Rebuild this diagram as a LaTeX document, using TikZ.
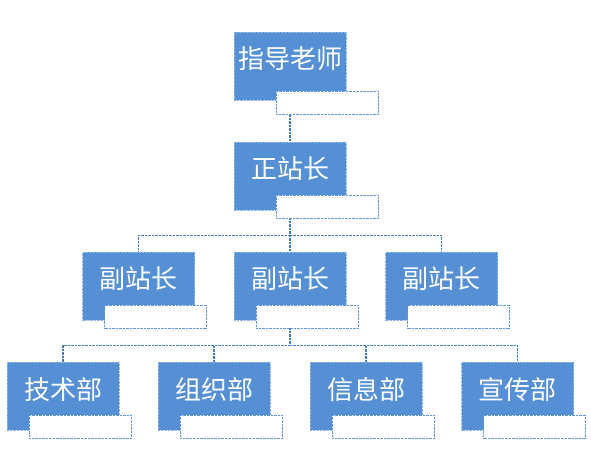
\documentclass[tikz,border=0pt]{standalone}
\usepackage{fontspec}
\newfontfamily\cjk{Noto Sans CJK SC}
\usetikzlibrary{calc}
\definecolor{BoxClr}{HTML}{5590D4}
\definecolor{BoxLine}{HTML}{8FB6E6}
\definecolor{LinkClr}{HTML}{3F7CC0}
\definecolor{TagLine}{HTML}{5F95D6}

\begin{document}
\begin{tikzpicture}[x=1pt,y=-1pt,
  post/.style={draw=BoxLine,densely dotted,fill=BoxClr,minimum width=112pt,minimum height=68pt,inner sep=0pt},
  word/.style={text=white,font=\cjk\fontsize{26}{26}\selectfont,inner sep=0pt},
  tag/.style={draw=TagLine,densely dotted,fill=white,minimum width=102pt,minimum height=23pt,inner sep=0pt,anchor=north west},
  link/.style={draw=LinkClr,line width=1.2pt,dash pattern=on 2.5pt off 1pt}]
\useasboundingbox (0,0) rectangle (591,470);

% boxes
\node[post] (ls) at (290,66) {};
\node[post] (zz) at (290,176) {};
\node[post] (f1) at (138.5,286) {};
\node[post] (f2) at (290,286) {};
\node[post] (f3) at (441.5,286) {};
\node[post] (b1) at (63,396) {};
\node[post] (b2) at (214,396) {};
\node[post] (b3) at (366,396) {};
\node[post] (b4) at (517.5,396) {};

% connectors
\draw[link] (ls.south) -- (zz.north);
\foreach \n in {f1,f2,f3}
  \draw[link] (zz.south) -- ++(0,25) -| (\n.north);
\foreach \n in {b1,b2,b3,b4}
  \draw[link] (f2.south) -- ++(0,25) -| (\n.north);

% white tags under the boxes
\node[tag] at ($(ls.south west)+(42,-9)$) {};
\node[tag] at ($(zz.south west)+(42,-15)$) {};
\foreach \n in {f1,f2,f3,b1,b2,b3,b4}
  \node[tag] at ($(\n.south west)+(22,-15)$) {};

% texts
\node[word] at ($(ls)+(0,-7)$) {指导老师};
\node[word] at ($(zz)+(0,-7)$) {正站长};
\foreach \n in {f1,f2,f3}
  \node[word] at ($(\n)+(0,-7)$) {副站长};
\node[word] at ($(b1)+(0,-6)$) {技术部};
\node[word] at ($(b2)+(0,-6)$) {组织部};
\node[word] at ($(b3)+(0,-6)$) {信息部};
\node[word] at ($(b4)+(0,-6)$) {宣传部};

\end{tikzpicture}
\end{document}
